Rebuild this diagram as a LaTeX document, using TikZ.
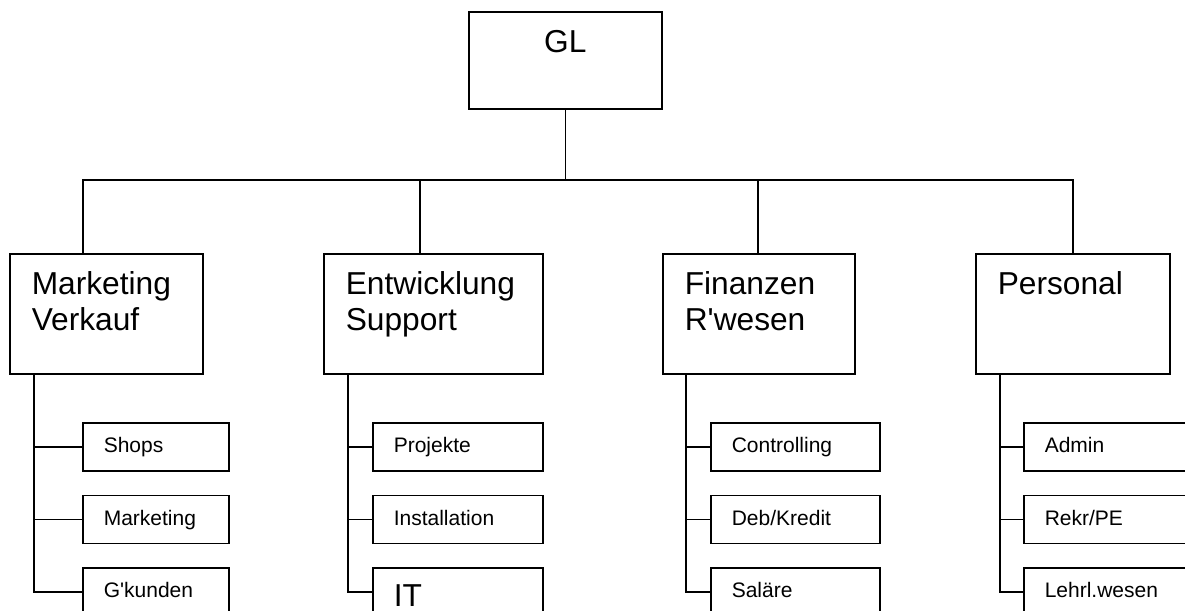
\documentclass[tikz,border=0pt]{standalone}
\usepackage{fontspec}
\setmainfont{Liberation Sans}
\usetikzlibrary{positioning}

\begin{document}
\begin{tikzpicture}[x=1pt,y=-1pt,line width=1.6pt,
                    unit/.style={draw,rectangle,anchor=north west,inner xsep=22pt,inner ysep=9pt,
                                 align=left,text height=32pt,text depth=70pt,
                                 font=\fontsize{31.7}{36}\selectfont},
                    head/.style={unit,align=center,text depth=47pt},
                    team/.style={draw,rectangle,anchor=north west,inner xsep=21pt,inner ysep=0pt,
                                 minimum height=48pt,align=left,text height=15.4pt,text depth=4pt,
                                 font=\fontsize{21}{24}\selectfont},
                    team big/.style={team,text height=33pt,font=\fontsize{31.7}{36}\selectfont}]
    \useasboundingbox (0,0) rectangle (1185,610);
    \clip (0,0) rectangle (1185,610);

    \node[head,text width=149pt] (gl) at (468,11) {GL};

    \node[unit,text width=149pt] (mv) at (9,253) {Marketing\\Verkauf};
    \node[unit,text width=175pt] (es) at (323,253) {Entwicklung\\Support};
    \node[unit,text width=148pt] (fr) at (662,253) {Finanzen\\R\textquotesingle wesen};
    \node[unit,text width=150pt] (pe) at (975,253) {Personal};

    \node[team,text width=104pt] (mv1) at (82,422) {Shops};
    \node[team,text width=104pt] (mv2) at (82,494.5) {Marketing};
    \node[team,text width=104pt] (mv3) at (82,567) {G\textquotesingle kunden};

    \node[team,text width=128pt] (es1) at (372,422) {Projekte};
    \node[team,text width=128pt] (es2) at (372,494.5) {Installation};
    \node[team big,text width=128pt] (es3) at (372,567) {IT};

    \node[team,text width=127pt] (fr1) at (710,422) {Controlling};
    \node[team,text width=127pt] (fr2) at (710,494.5) {Deb/Kredit};
    \node[team,text width=127pt] (fr3) at (710,567) {Sal\"are};

    \node[team,text width=128pt] (pe1) at (1023,422) {Admin};
    \node[team,text width=128pt] (pe2) at (1023,494.5) {Rekr/PE};
    \node[team,text width=128pt] (pe3) at (1023,567) {Lehrl.wesen};

    % bus below GL
    \coordinate (bus mv) at (83,180);
    \coordinate (bus es) at (420,180);
    \coordinate (bus fr) at (758,180);
    \coordinate (bus pe) at (1073,180);

    \draw (gl.south) -- (gl.south |- bus mv);
    \draw (bus mv |- mv.north) -- (bus mv) -- (bus pe) -- (bus pe |- pe.north);
    \draw (bus es) -- (bus es |- es.north);
    \draw (bus fr) -- (bus fr |- fr.north);

    % spines down to the teams
    \coordinate (spine mv) at ([xshift=25pt]mv.south west);
    \coordinate (spine es) at ([xshift=25pt]es.south west);
    \coordinate (spine fr) at ([xshift=24pt]fr.south west);
    \coordinate (spine pe) at ([xshift=25pt]pe.south west);

    \draw (spine mv) |- (mv3.west);
    \draw (spine mv |- mv1.west) -- (mv1.west);
    \draw (spine mv |- mv2.west) -- (mv2.west);

    \draw (spine es) |- (es3.west);
    \draw (spine es |- es1.west) -- (es1.west);
    \draw (spine es |- es2.west) -- (es2.west);

    \draw (spine fr) |- (fr3.west);
    \draw (spine fr |- fr1.west) -- (fr1.west);
    \draw (spine fr |- fr2.west) -- (fr2.west);

    \draw (spine pe) |- (pe3.west);
    \draw (spine pe |- pe1.west) -- (pe1.west);
    \draw (spine pe |- pe2.west) -- (pe2.west);
\end{tikzpicture}
\end{document}
